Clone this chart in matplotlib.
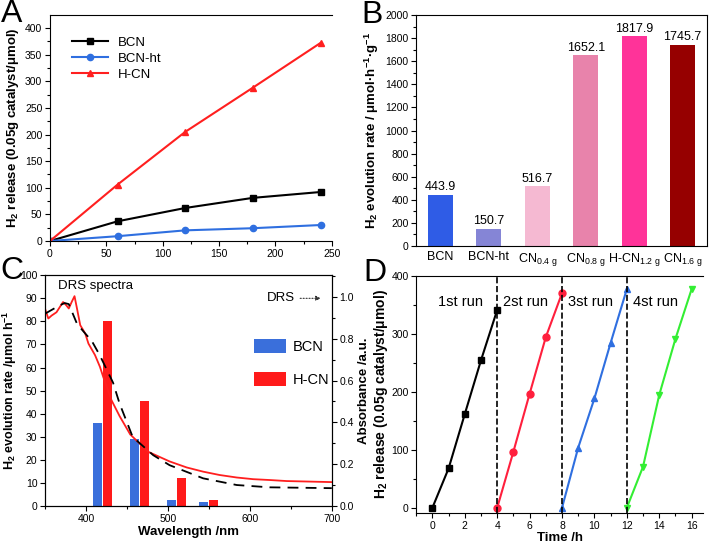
import matplotlib
matplotlib.use('Agg')
import matplotlib.pyplot as plt
import matplotlib.ticker as ticker
import numpy as np

plt.rcParams['font.family'] = ['Liberation Sans', 'DejaVu Sans']
plt.rcParams['mathtext.fontset'] = 'custom'
plt.rcParams['mathtext.rm'] = 'Liberation Sans'
plt.rcParams['mathtext.bf'] = 'Liberation Sans:bold'
plt.rcParams['font.size'] = 8
plt.rcParams['xtick.direction'] = 'out'
plt.rcParams['ytick.direction'] = 'out'

# ---- A: H2 release vs time
t_a = [0, 60, 120, 180, 240]
bcn_a = [0, 37, 62, 81, 92]
bcnht_a = [0, 9, 20, 24, 30]
hcn_a = [0, 106, 205, 288, 372]

# ---- B: H2 evolution rate
cats_b = ['BCN', 'BCN-ht', r'CN$_{\mathregular{0.4\ g}}$', r'CN$_{\mathregular{0.8\ g}}$',
          r'H-CN$_{\mathregular{1.2\ g}}$', r'CN$_{\mathregular{1.6\ g}}$']
rate_b = [443.9, 150.7, 516.7, 1652.1, 1817.9, 1745.7]
colors_b = ['#2F5CE6', '#8585D6', '#F5B9D2', '#E883AB', '#FF3399', '#960000']

# ---- C: wavelength dependence + DRS
wl_bars = [420, 465, 510, 550]
bcn_c = [36, 29, 2.5, 1.5]
hcn_c = [80, 45.5, 12, 2.7]
wl_red = [350, 354, 358, 364, 372, 376, 379, 382.5, 386, 389, 393, 399, 403, 411, 417,
          421, 431, 441, 454, 476, 502, 523, 543, 563, 584, 604, 624, 645, 700]
abs_red = [0.944, 0.897, 0.911, 0.927, 0.976, 0.960, 0.945, 0.976, 1.004, 0.945, 0.865,
           0.826, 0.777, 0.722, 0.666, 0.618, 0.507, 0.43, 0.342, 0.259, 0.213, 0.184,
           0.164, 0.148, 0.136, 0.128, 0.124, 0.119, 0.114]
wl_blk = [350, 358, 368, 374, 379, 389, 398, 407, 417, 433, 441, 449, 457, 482, 502,
          543, 584, 624, 700]
abs_blk = [0.92, 0.938, 0.96, 0.971, 0.966, 0.872, 0.83, 0.79, 0.72, 0.59, 0.49, 0.41,
           0.33, 0.243, 0.195, 0.132, 0.10, 0.089, 0.085]

# ---- D: cycling runs
t_runs = [[0, 1, 2, 3, 4], [4, 5, 6, 7, 8], [8, 9, 10, 11, 12], [12, 13, 14, 15, 16]]
h2_runs = [[0, 68, 162, 255, 342], [0, 97, 197, 295, 371],
           [0, 104, 189, 285, 378], [0, 71, 195, 292, 378]]
run_names = ['1st run', '2st run', '3st run', '4st run']
run_colors = ['black', '#FF1F3D', '#2F6FE0', '#33EE33']
run_markers = ['s', 'o', '^', 'v']

fig = plt.figure(figsize=(7.09, 5.44), dpi=100)
lbl = dict(fontsize=9.5, fontweight='bold')

# Panel A
ax1 = fig.add_axes([0.0705, 0.557, 0.3975, 0.415])
ax1.plot(t_a, bcn_a, 's-', color='black', ms=4.5, lw=1.5, label='BCN')
ax1.plot(t_a, bcnht_a, 'o-', color='#2F6FE0', ms=4.5, lw=1.5, label='BCN-ht')
ax1.plot(t_a, hcn_a, '^-', color='#FF1F1F', ms=5, lw=1.5, label='H-CN')
ax1.set_xlim(0, 250)
ax1.set_ylim(0, 424)
ax1.xaxis.set_major_locator(ticker.MultipleLocator(50))
ax1.xaxis.set_minor_locator(ticker.MultipleLocator(25))
ax1.yaxis.set_major_locator(ticker.MultipleLocator(50))
ax1.yaxis.set_minor_locator(ticker.MultipleLocator(25))
ax1.spines['right'].set_visible(False)
ax1.set_ylabel(r'H$_\mathregular{2}$ release (0.05g catalyst/μmol)', labelpad=3, **lbl)
ax1.legend(loc='upper left', bbox_to_anchor=(0.06, 0.93), frameon=False, fontsize=9.5,
           handlelength=2.7, labelspacing=0.3, borderaxespad=0)

# Panel B
ax2 = fig.add_axes([0.587, 0.548, 0.410, 0.424])
xb = np.arange(len(rate_b))
ax2.bar(xb, rate_b, width=0.52, color=colors_b)
for xi, v in zip(xb, rate_b):
    ax2.text(xi, v + 12, f'{v:.1f}', ha='center', va='bottom', fontsize=9)
ax2.set_xlim(-0.5, 5.5)
ax2.set_ylim(0, 2000)
ax2.set_xticks(xb)
ax2.set_xticklabels(cats_b)
ax2.yaxis.set_major_locator(ticker.MultipleLocator(200))
ax2.yaxis.set_minor_locator(ticker.MultipleLocator(100))
ax2.set_ylabel(r'H$_\mathregular{2}$ evolution rate / μmol·h$^\mathregular{-1}$·g$^\mathregular{-1}$',
               labelpad=3, **lbl)

# Panel C
ax3 = fig.add_axes([0.0635, 0.070, 0.4045, 0.424])
wb = np.array(wl_bars)
ax3.bar(wb - 6, bcn_c, width=11, color='#3A6FDB', label='BCN', zorder=2)
ax3.bar(wb + 6, hcn_c, width=11, color='#FF1A1A', label='H-CN', zorder=2)
ax3.set_xlim(350, 700)
ax3.set_ylim(0, 100)
ax3.xaxis.set_major_locator(ticker.MultipleLocator(100))
ax3.xaxis.set_minor_locator(ticker.MultipleLocator(50))
ax3.yaxis.set_major_locator(ticker.MultipleLocator(10))
ax3.set_xlabel('Wavelength /nm', labelpad=2, **lbl)
ax3.set_ylabel(r'H$_\mathregular{2}$ evolution rate /μmol h$^\mathregular{-1}$', labelpad=1,
               fontsize=9, fontweight='bold')
ax3.legend(loc='upper left', bbox_to_anchor=(0.707, 0.75), frameon=False, fontsize=10.5,
           handlelength=2.2, handleheight=1.1, labelspacing=1.25, handletextpad=0.45,
           borderaxespad=0)
ax3.text(411, 95.5, 'DRS spectra', ha='center', va='center', fontsize=9.5)
ax3.text(655, 90, 'DRS', ha='right', va='center', fontsize=9.5)
ax3.annotate('', xy=(690, 90), xytext=(658, 90),
             arrowprops=dict(arrowstyle='-|>', ls=':', lw=0.8, color='#333333',
                             mutation_scale=7))
ax3b = ax3.twinx()
ax3b.plot(wl_red, abs_red, '-', color='#FF1F1F', lw=1.3)
ax3b.plot(wl_blk, abs_blk, color='black', lw=1.3, ls=(0, (6, 4)))
ax3b.set_ylim(0, 1.104)
ax3b.yaxis.set_major_locator(ticker.MultipleLocator(0.2))
ax3b.yaxis.set_minor_locator(ticker.MultipleLocator(0.1))
ax3b.yaxis.set_major_formatter(ticker.FormatStrFormatter('%.1f'))
ax3b.set_ylabel('Absorbance /a.u.', labelpad=3, **lbl)

# Panel D
ax4 = fig.add_axes([0.587, 0.057, 0.4045, 0.436])
for tt, hh, c, m in zip(t_runs, h2_runs, run_colors, run_markers):
    ax4.plot(tt, hh, '-', marker=m, color=c, ms=5, lw=1.5)
for xv in [4, 8, 12]:
    ax4.axvline(xv, color='black', ls='--', lw=1.2)
for tt, name in zip(t_runs, run_names):
    ax4.text(tt[0] + 1.75, 355, name, ha='center', va='center', fontsize=10.5)
ax4.set_xlim(-1, 16.7)
ax4.set_ylim(-9, 401)
ax4.xaxis.set_major_locator(ticker.MultipleLocator(2))
ax4.xaxis.set_minor_locator(ticker.MultipleLocator(1))
ax4.yaxis.set_major_locator(ticker.MultipleLocator(100))
ax4.yaxis.set_minor_locator(ticker.MultipleLocator(50))
ax4.spines['right'].set_visible(False)
ax4.set_xlabel('Time /h', labelpad=1, **lbl)
ax4.set_ylabel(r'H$_\mathregular{2}$ release (0.05g catalyst/μmol)', labelpad=1, fontsize=10,
               fontweight='bold')

for ax in [ax1, ax2, ax3, ax3b, ax4]:
    ax.tick_params(which='major', length=3.5, width=0.8, labelsize=7.5, pad=2)
    ax.tick_params(which='minor', length=2, width=0.8)
ax2.tick_params(axis='x', length=0, labelsize=9, pad=4)

# panel letters
for s, x, y in [('A', 0.002, 0.975), ('B', 0.509, 0.972), ('C', 0.001, 0.502), ('D', 0.513, 0.498)]:
    fig.text(x, y, s, fontsize=23, ha='left', va='center')

fig.savefig('out.png', dpi=100)
